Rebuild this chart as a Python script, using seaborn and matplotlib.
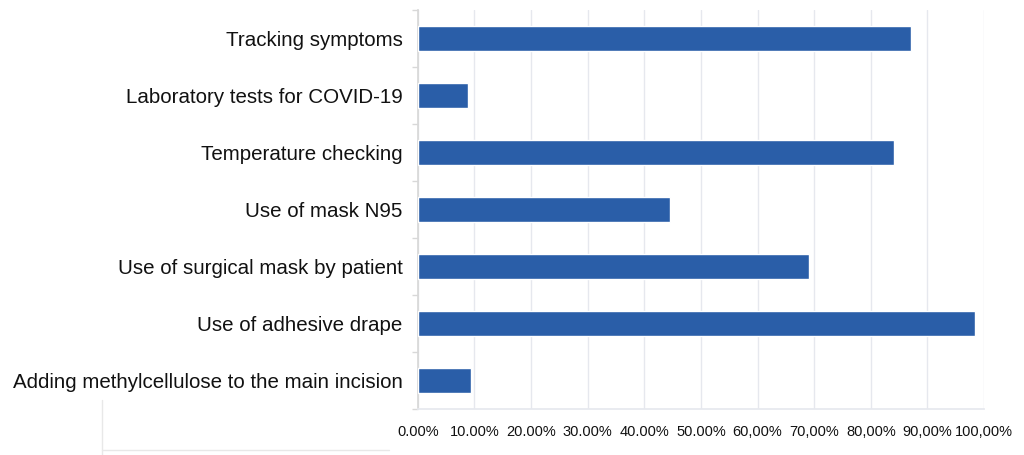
import matplotlib.pyplot as plt
import matplotlib.ticker as mticker
import seaborn as sns
import pandas as pd
import numpy as np

categories = [
    "Tracking symptoms",
    "Laboratory tests for COVID-19",
    "Temperature checking",
    "Use of mask N95",
    "Use of surgical mask by patient",
    "Use of adhesive drape",
    "Adding methylcellulose to the main incision",
]
values = [87.1, 8.8, 84.1, 44.5, 69.1, 98.4, 9.4]
x_ticks = [0, 10, 20, 30, 40, 50, 60, 70, 80, 90, 100]

df = pd.DataFrame({"category": categories, "value": values})

sns.set_theme(style="white")
plt.rcParams['font.family'] = ['Liberation Sans', 'DejaVu Sans']

fig = plt.figure(figsize=(10.24, 4.55), dpi=100)
ax = fig.add_axes([0.408, 0.102, 0.553, 0.876])

sns.barplot(data=df, y="category", x="value", color="#2a5ea8", width=0.44,
            saturation=1, ax=ax, zorder=3)

ax.set_xlim(0, 100)
ax.set_xticks(x_ticks)
ax.xaxis.set_major_formatter(mticker.FuncFormatter(lambda v, p: f"{v:.2f}%".replace(".", ",") if v >= 60 else f"{v:.2f}%"))
ax.grid(axis="x", color="#e6e8ee", linewidth=1, zorder=0)
ax.set_xlabel("")
ax.set_ylabel("")

for s in ["top", "right"]:
    ax.spines[s].set_visible(False)
ax.spines["left"].set_color("#d8d8d8")
ax.spines["bottom"].set_color("#e6e8ee")

ax.tick_params(axis="y", which="major", length=0, labelsize=14.8, pad=11, labelcolor="#111111")
ax.set_yticks(np.arange(-0.5, len(categories), 1), minor=True)
ax.tick_params(axis="y", which="minor", length=4, color="#d8d8d8", left=True)
ax.tick_params(axis="x", length=0, labelsize=10.5, pad=12, labelcolor="#111111")
for t in ax.get_xticklabels():
    t.set_fontstretch("condensed")

# faint box line at bottom left of the original image
fig.add_artist(plt.Line2D([0.1, 0.1], [0.0, 0.12], color="#e8e8e8", lw=1))
fig.add_artist(plt.Line2D([0.1, 0.38], [0.012, 0.012], color="#e8e8e8", lw=1))

plt.savefig("out.png", dpi=100)
